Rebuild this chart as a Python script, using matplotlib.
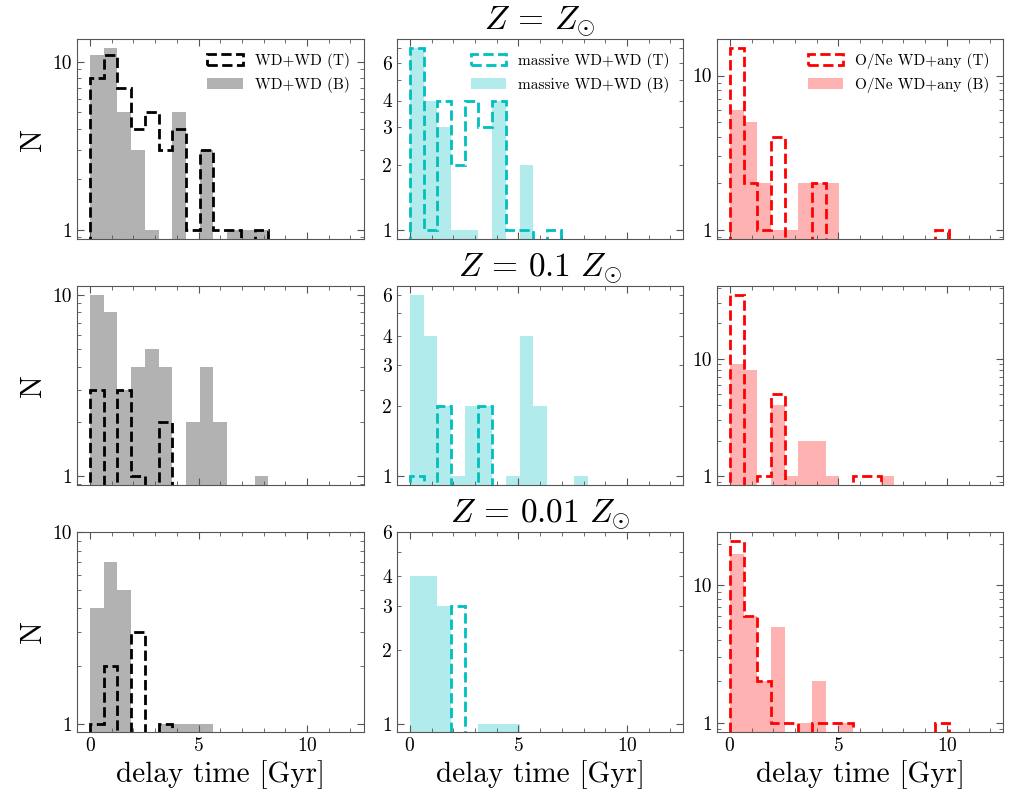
import numpy as np
import matplotlib
matplotlib.use("Agg")
import matplotlib.pyplot as plt
from matplotlib.ticker import LogFormatter, MultipleLocator

plt.rcParams["font.family"] = "serif"
plt.rcParams["font.serif"] = ["cmr10"]
plt.rcParams["mathtext.fontset"] = "cm"
plt.rcParams["axes.formatter.use_mathtext"] = True

# 19 delay-time bins from 0 to 12 Gyr
bin_edges = np.linspace(0, 12, 20)

titles = [r"$Z\,=\,Z_{\odot}$", r"$Z\,=\,0.1\ Z_{\odot}$", r"$Z\,=\,0.01\ Z_{\odot}$"]
channels = ["WD+WD", "massive WD+WD", "O/Ne WD+any"]
colours = ["k", "c", "r"]

# counts per bin, leading bins only (rest are zero)
wd_T_sun = [8, 11, 7, 4, 5, 3, 4, 1, 3, 1, 1, 0, 1]
wd_B_sun = [11, 12, 5, 3, 1, 0, 5, 0, 3, 0, 1, 1, 1]
mwd_T_sun = [7, 1, 4, 2, 4, 3, 4, 1, 1, 0, 1]
mwd_B_sun = [7, 4, 3, 1, 1, 0, 4, 0, 2]
one_T_sun = [15, 2, 1, 4, 0, 0, 2, 0, 0, 0, 0, 0, 0, 0, 0, 1]
one_B_sun = [6, 5, 2, 1, 1, 2, 2, 2]

wd_T_01 = [3, 0, 3, 1, 0, 2]
wd_B_01 = [10, 8, 3, 4, 5, 4, 0, 2, 4, 2, 0, 0, 1]
mwd_T_01 = [1, 0, 2, 0, 0, 2]
mwd_B_01 = [6, 4, 2, 1, 2, 2, 0, 1, 4, 2, 0, 0, 1]
one_T_01 = [35, 0, 1, 5, 0, 0, 0, 0, 0, 1, 1]
one_B_01 = [9, 8, 0, 4, 1, 2, 2, 1, 0, 0, 0, 1]

wd_T_001 = [1, 2, 0, 3, 0, 1]
wd_B_001 = [4, 7, 5, 0, 0, 1, 1, 1, 1]
mwd_T_001 = [0, 0, 0, 3]
mwd_B_001 = [4, 4, 3, 0, 0, 1, 1, 1]
one_T_001 = [21, 6, 2, 1, 1, 0, 1, 1, 1, 0, 0, 0, 0, 0, 0, 1]
one_B_001 = [17, 6, 2, 5, 0, 1, 2, 0, 1]

tdata = [[wd_T_sun, mwd_T_sun, one_T_sun],
         [wd_T_01, mwd_T_01, one_T_01],
         [wd_T_001, mwd_T_001, one_T_001]]
bdata = [[wd_B_sun, mwd_B_sun, one_B_sun],
         [wd_B_01, mwd_B_01, one_B_01],
         [wd_B_001, mwd_B_001, one_B_001]]

# the bottom row had its upper limit fixed by hand
ytops = [[None, None, None], [None, None, None], [10, 6, None]]
title_pad = [2, 0, 0]


def padded(vals):
    out = np.zeros(len(bin_edges) - 1)
    out[:len(vals)] = vals
    return out


centres = 0.5 * (bin_edges[1:] + bin_edges[:-1])

fig, axes = plt.subplots(3, 3, figsize=(10.24, 8.05), dpi=100, sharex=True)
fig.subplots_adjust(left=0.0752, right=0.9798, bottom=0.0911, top=0.9512,
                    wspace=0.1165, hspace=0.235)

for r in range(3):
    for c in range(3):
        ax = axes[r][c]
        tc = padded(tdata[r][c])
        bc = padded(bdata[r][c])
        _, _, pb = ax.hist(centres, bins=bin_edges, weights=bc, histtype="stepfilled",
                           color=colours[c], alpha=0.3, log=True)
        _, _, pt = ax.hist(centres, bins=bin_edges, weights=tc, histtype="step",
                           color=colours[c], linestyle="--", linewidth=2, log=True)

        top_val = max(tc.max(), bc.max())
        span = np.log10(top_val)
        lo = 10 ** (-0.05 * span)
        hi = 10 ** (1.05 * span) if ytops[r][c] is None else ytops[r][c]
        ax.set_ylim(lo, hi)
        ax.set_xlim(-0.6, 12.6)

        ax.xaxis.set_major_locator(MultipleLocator(5))
        ax.xaxis.set_minor_locator(MultipleLocator(1))
        ax.yaxis.set_major_formatter(LogFormatter())
        ax.yaxis.set_minor_formatter(LogFormatter(labelOnlyBase=False))
        ax.tick_params(which="both", direction="in", top=True, right=True,
                       labelsize=14, color="#555555")
        ax.tick_params(which="major", length=5)
        ax.tick_params(which="minor", length=3)
        for sp in ax.spines.values():
            sp.set_edgecolor("#555555")

        if r == 0:
            ax.legend([pt[0], pb[0]],
                      [channels[c] + " (T)", channels[c] + " (B)"],
                      loc="upper right", frameon=False, fontsize=11,
                      handlelength=2.3)
        if c == 0:
            ax.set_ylabel("N", fontsize=22)
        if c == 1:
            ax.set_title(titles[r], fontsize=24, pad=title_pad[r])
        if r == 2:
            ax.set_xlabel("delay time [Gyr]", fontsize=21)

fig.savefig("out.png", dpi=100)
